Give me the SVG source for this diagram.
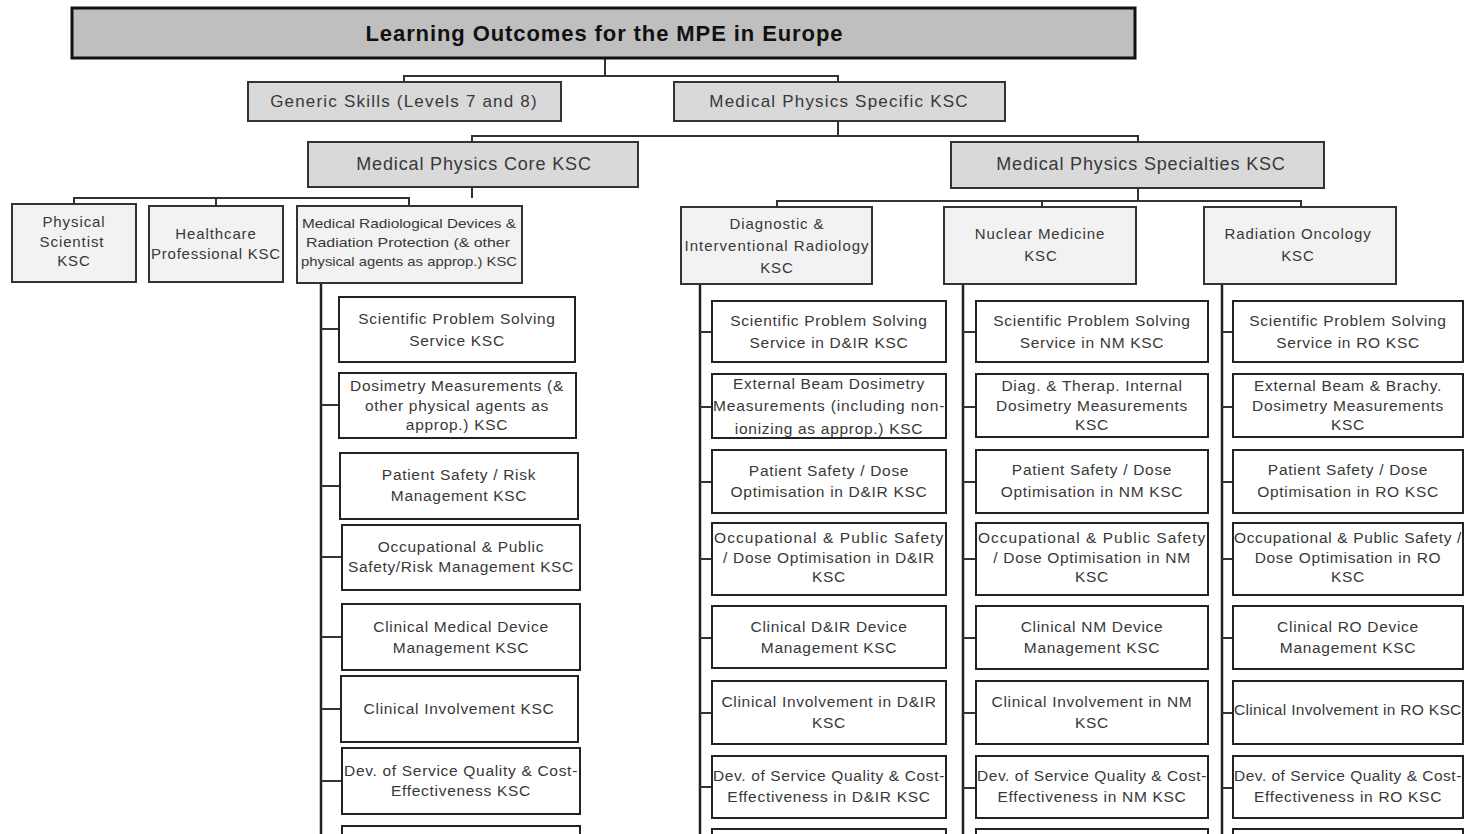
<svg xmlns="http://www.w3.org/2000/svg" width="1464" height="834" viewBox="0 0 1464 834">
<style>
text{font-family:"Liberation Sans",Arial,sans-serif;fill:#383838;text-anchor:middle;dominant-baseline:central}
.title{font-size:22px;font-weight:bold;fill:#111}
.l2{font-size:17px;letter-spacing:1.2px}
.l3{font-size:18px;letter-spacing:0.85px}
.l4{font-size:15px;letter-spacing:0.9px}
.leaf{font-size:15.5px;letter-spacing:0.7px}
.sm{font-size:13px}
.b1{fill:#bfbfbf;stroke:#111;stroke-width:3}
.b2{fill:#d9d9d9;stroke:#333;stroke-width:2}
.b4{fill:#f2f2f2;stroke:#333;stroke-width:2}
.lf{fill:#fff;stroke:#222;stroke-width:2}
.c{fill:none;stroke:#333;stroke-width:2}
.sp{fill:none;stroke:#222;stroke-width:2.5}
</style>
<rect width="1464" height="834" fill="#fff"/>
<g id="connectors">
<path class="c" d="M605 58V76M404 82V76H838V82"/>
<path class="c" d="M838 121V136M472 142V136H1138V142"/>
<path class="c" d="M472 187V198M74 204V198H409V206M216 198V206"/>
<path class="c" d="M1138 188V201M777 207V201H1301V207M1042 201V207"/>
<path class="sp" d="M321 283V834M700 284V834M963 284V834M1222 284V834"/>
<path class="c" d="M321 329H339M321 405H339M321 486H340M321 557H342M321 637H342M321 709H341M321 781H342"/>
<path class="c" d="M700 332H712M700 407H712M700 482H712M700 559H712M700 638H712M700 713H712M700 787H712"/>
<path class="c" d="M963 332H976M963 407H976M963 482H976M963 559H976M963 638H976M963 713H976M963 788H976"/>
<path class="c" d="M1222 332H1233M1222 407H1233M1222 482H1233M1222 559H1233M1222 638H1233M1222 713H1233M1222 788H1233"/>
</g>
<g id="title"><rect class="b1" x="72" y="8" width="1063" height="50"/><text class="title" x="604" y="33" textLength="477" lengthAdjust="spacing">Learning Outcomes for the MPE in Europe</text></g>
<g id="generic"><rect class="b2" x="248" y="82" width="313" height="39"/><text class="l2" x="404" y="101">Generic Skills (Levels 7 and 8)</text></g>
<g id="specific"><rect class="b2" x="674" y="82" width="331" height="39"/><text class="l2" x="839" y="101">Medical Physics Specific KSC</text></g>
<g id="core"><rect class="b2" x="308" y="142" width="330" height="45"/><text class="l3" x="474" y="164">Medical Physics Core KSC</text></g>
<g id="specialties"><rect class="b2" x="951" y="142" width="373" height="46"/><text class="l3" x="1141" y="164">Medical Physics Specialties KSC</text></g>
<g id="physical"><rect class="b4" x="12" y="204" width="124" height="78"/><text class="l4" x="74" y="221">Physical</text><text class="l4" x="72" y="241">Scientist</text><text class="l4" x="74" y="260">KSC</text></g>
<g id="healthcare"><rect class="b4" x="149" y="206" width="134" height="76"/><text class="l4" x="216" y="233">Healthcare</text><text class="l4" x="216" y="253" textLength="130" lengthAdjust="spacing">Professional KSC</text></g>
<g id="radiological"><rect class="b4" x="297" y="206" width="225" height="77"/><text class="sm" x="409" y="223" textLength="214" lengthAdjust="spacingAndGlyphs">Medical Radiological Devices &amp;</text><text class="sm" x="408" y="242" textLength="204" lengthAdjust="spacingAndGlyphs">Radiation Protection (&amp; other</text><text class="sm" x="409" y="261" textLength="216" lengthAdjust="spacingAndGlyphs">physical agents as approp.) KSC</text></g>
<g id="dir"><rect class="b4" x="681" y="207" width="191" height="77"/><text class="l4" x="777" y="223">Diagnostic &amp;</text><text class="l4" x="777" y="245" textLength="185" lengthAdjust="spacing">Interventional Radiology</text><text class="l4" x="777" y="267">KSC</text></g>
<g id="nm"><rect class="b4" x="944" y="207" width="192" height="77"/><text class="l4" x="1040" y="233">Nuclear Medicine</text><text class="l4" x="1041" y="255">KSC</text></g>
<g id="ro"><rect class="b4" x="1204" y="207" width="192" height="77"/><text class="l4" x="1298" y="233">Radiation Oncology</text><text class="l4" x="1298" y="255">KSC</text></g>

<g id="core-1"><rect class="lf" x="339" y="297" width="236" height="65"/><text class="leaf" x="457" y="318">Scientific Problem Solving</text><text class="leaf" x="457" y="340">Service KSC</text></g>
<g id="core-2"><rect class="lf" x="339" y="373" width="237" height="65"/><text class="leaf" x="457" y="385">Dosimetry Measurements (&amp;</text><text class="leaf" x="457" y="405">other physical agents as</text><text class="leaf" x="457" y="424">approp.) KSC</text></g>
<g id="core-3"><rect class="lf" x="340" y="453" width="238" height="66"/><text class="leaf" x="459" y="474">Patient Safety / Risk</text><text class="leaf" x="459" y="495">Management KSC</text></g>
<g id="core-4"><rect class="lf" x="342" y="525" width="238" height="65"/><text class="leaf" x="461" y="546">Occupational &amp; Public</text><text class="leaf" x="461" y="566" textLength="226" lengthAdjust="spacing">Safety/Risk Management KSC</text></g>
<g id="core-5"><rect class="lf" x="342" y="604" width="238" height="66"/><text class="leaf" x="461" y="626">Clinical Medical Device</text><text class="leaf" x="461" y="647">Management KSC</text></g>
<g id="core-6"><rect class="lf" x="341" y="676" width="237" height="66"/><text class="leaf" x="459" y="708">Clinical Involvement KSC</text></g>
<g id="core-7"><rect class="lf" x="342" y="748" width="238" height="66"/><text class="leaf" x="461" y="770" textLength="234" lengthAdjust="spacing">Dev. of Service Quality &amp; Cost-</text><text class="leaf" x="461" y="790">Effectiveness KSC</text></g>
<g id="core-8"><rect class="lf" x="342" y="826" width="238" height="40"/></g>

<g id="dir-1"><rect class="lf" x="712" y="301" width="234" height="61"/><text class="leaf" x="829" y="320">Scientific Problem Solving</text><text class="leaf" x="829" y="342">Service in D&amp;IR KSC</text></g>
<g id="dir-2"><rect class="lf" x="712" y="374" width="234" height="64"/><text class="leaf" x="829" y="383">External Beam Dosimetry</text><text class="leaf" x="829" y="405" textLength="232" lengthAdjust="spacing">Measurements (including non-</text><text class="leaf" x="829" y="428">ionizing as approp.) KSC</text></g>
<g id="dir-3"><rect class="lf" x="712" y="450" width="234" height="63"/><text class="leaf" x="829" y="470">Patient Safety / Dose</text><text class="leaf" x="829" y="491">Optimisation in D&amp;IR KSC</text></g>
<g id="dir-4"><rect class="lf" x="712" y="523" width="234" height="72"/><text class="leaf" x="829" y="537" textLength="230" lengthAdjust="spacing">Occupational &amp; Public Safety</text><text class="leaf" x="829" y="557">/ Dose Optimisation in D&amp;IR</text><text class="leaf" x="829" y="576">KSC</text></g>
<g id="dir-5"><rect class="lf" x="712" y="606" width="234" height="62"/><text class="leaf" x="829" y="626">Clinical D&amp;IR Device</text><text class="leaf" x="829" y="647">Management KSC</text></g>
<g id="dir-6"><rect class="lf" x="712" y="681" width="234" height="63"/><text class="leaf" x="829" y="701">Clinical Involvement in D&amp;IR</text><text class="leaf" x="829" y="722">KSC</text></g>
<g id="dir-7"><rect class="lf" x="712" y="756" width="234" height="62"/><text class="leaf" x="829" y="775" textLength="232" lengthAdjust="spacing">Dev. of Service Quality &amp; Cost-</text><text class="leaf" x="829" y="796">Effectiveness in D&amp;IR KSC</text></g>
<g id="dir-8"><rect class="lf" x="712" y="829" width="234" height="40"/></g>

<g id="nm-1"><rect class="lf" x="976" y="301" width="232" height="61"/><text class="leaf" x="1092" y="320">Scientific Problem Solving</text><text class="leaf" x="1092" y="342">Service in NM KSC</text></g>
<g id="nm-2"><rect class="lf" x="976" y="374" width="232" height="63"/><text class="leaf" x="1092" y="385">Diag.  &amp; Therap.  Internal</text><text class="leaf" x="1092" y="405">Dosimetry Measurements</text><text class="leaf" x="1092" y="424">KSC</text></g>
<g id="nm-3"><rect class="lf" x="976" y="450" width="232" height="63"/><text class="leaf" x="1092" y="469">Patient Safety / Dose</text><text class="leaf" x="1092" y="491">Optimisation in NM KSC</text></g>
<g id="nm-4"><rect class="lf" x="976" y="523" width="232" height="72"/><text class="leaf" x="1092" y="537" textLength="228" lengthAdjust="spacing">Occupational &amp; Public Safety</text><text class="leaf" x="1092" y="557">/ Dose Optimisation in NM</text><text class="leaf" x="1092" y="576">KSC</text></g>
<g id="nm-5"><rect class="lf" x="976" y="606" width="232" height="63"/><text class="leaf" x="1092" y="626">Clinical NM Device</text><text class="leaf" x="1092" y="647">Management KSC</text></g>
<g id="nm-6"><rect class="lf" x="976" y="681" width="232" height="63"/><text class="leaf" x="1092" y="701">Clinical Involvement in NM</text><text class="leaf" x="1092" y="722">KSC</text></g>
<g id="nm-7"><rect class="lf" x="976" y="756" width="232" height="62"/><text class="leaf" x="1092" y="775" textLength="230" lengthAdjust="spacing">Dev. of Service Quality &amp; Cost-</text><text class="leaf" x="1092" y="796">Effectiveness in NM KSC</text></g>
<g id="nm-8"><rect class="lf" x="976" y="829" width="232" height="40"/></g>

<g id="ro-1"><rect class="lf" x="1233" y="301" width="230" height="61"/><text class="leaf" x="1348" y="320">Scientific Problem Solving</text><text class="leaf" x="1348" y="342">Service in RO KSC</text></g>
<g id="ro-2"><rect class="lf" x="1233" y="374" width="230" height="63"/><text class="leaf" x="1348" y="385">External Beam &amp; Brachy.</text><text class="leaf" x="1348" y="405">Dosimetry Measurements</text><text class="leaf" x="1348" y="424">KSC</text></g>
<g id="ro-3"><rect class="lf" x="1233" y="450" width="230" height="63"/><text class="leaf" x="1348" y="469">Patient Safety / Dose</text><text class="leaf" x="1348" y="491">Optimisation in RO KSC</text></g>
<g id="ro-4"><rect class="lf" x="1233" y="523" width="230" height="72"/><text class="leaf" x="1348" y="537" textLength="228" lengthAdjust="spacing">Occupational &amp; Public Safety /</text><text class="leaf" x="1348" y="557">Dose Optimisation in RO</text><text class="leaf" x="1348" y="576">KSC</text></g>
<g id="ro-5"><rect class="lf" x="1233" y="606" width="230" height="63"/><text class="leaf" x="1348" y="626">Clinical RO Device</text><text class="leaf" x="1348" y="647">Management KSC</text></g>
<g id="ro-6"><rect class="lf" x="1233" y="681" width="230" height="63"/><text class="leaf" x="1348" y="709" textLength="228" lengthAdjust="spacing">Clinical Involvement in RO KSC</text></g>
<g id="ro-7"><rect class="lf" x="1233" y="756" width="230" height="62"/><text class="leaf" x="1348" y="775" textLength="228" lengthAdjust="spacing">Dev. of Service Quality &amp; Cost-</text><text class="leaf" x="1348" y="796">Effectiveness in RO KSC</text></g>
<g id="ro-8"><rect class="lf" x="1233" y="829" width="230" height="40"/></g>
</svg>
